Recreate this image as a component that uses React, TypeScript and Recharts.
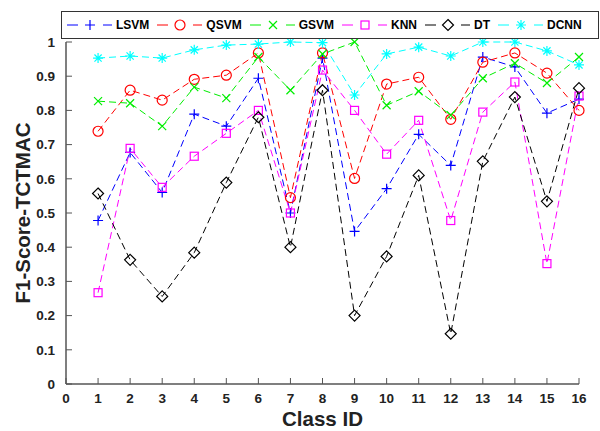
import { LineChart, Line, XAxis, YAxis, Legend } from "recharts";

const classIds = [1, 2, 3, 4, 5, 6, 7, 8, 9, 10, 11, 12, 13, 14, 15, 16];
const xTicks = [0, 1, 2, 3, 4, 5, 6, 7, 8, 9, 10, 11, 12, 13, 14, 15, 16];
const yTicks = [0, 0.1, 0.2, 0.3, 0.4, 0.5, 0.6, 0.7, 0.8, 0.9, 1];

const lsvm = [0.478, 0.677, 0.56, 0.789, 0.754, 0.894, 0.5, 0.953, 0.446, 0.571, 0.73, 0.639, 0.956, 0.927, 0.792, 0.833];
const qsvm = [0.739, 0.859, 0.83, 0.891, 0.903, 0.968, 0.545, 0.968, 0.601, 0.877, 0.897, 0.774, 0.941, 0.968, 0.909, 0.8];
const gsvm = [0.827, 0.821, 0.754, 0.868, 0.836, 0.956, 0.859, 0.965, 1.0, 0.815, 0.856, 0.786, 0.894, 0.938, 0.88, 0.956];
const knn = [0.267, 0.689, 0.575, 0.666, 0.733, 0.8, 0.5, 0.918, 0.8, 0.672, 0.771, 0.478, 0.795, 0.883, 0.352, 0.842];
const dt = [0.557, 0.363, 0.256, 0.384, 0.589, 0.78, 0.4, 0.859, 0.2, 0.373, 0.61, 0.147, 0.651, 0.839, 0.534, 0.865];
const dcnn = [0.953, 0.959, 0.953, 0.977, 0.991, 0.994, 1.0, 0.998, 0.845, 0.965, 0.985, 0.959, 1.0, 1.0, 0.974, 0.933];

const series = [
  { key: "LSVM", values: lsvm, color: "#0000ff", shape: "plus" },
  { key: "QSVM", values: qsvm, color: "#ff0000", shape: "circle" },
  { key: "GSVM", values: gsvm, color: "#00ee00", shape: "cross" },
  { key: "KNN", values: knn, color: "#ff00ff", shape: "square" },
  { key: "DT", values: dt, color: "#000000", shape: "diamond" },
  { key: "DCNN", values: dcnn, color: "#00ffff", shape: "star" },
];

const data = classIds.map((id, i) => {
  const row: Record<string, number> = { id };
  series.forEach((s) => (row[s.key] = s.values[i]));
  return row;
});

const FONT = "'Liberation Sans', Arial, Helvetica, sans-serif";
const AXIS = "#555555";
const TEXT = "#222222";

const Marker = ({ shape, cx, cy, color }: { shape: string; cx: number; cy: number; color: string }) => {
  const p = { stroke: color, fill: "none", strokeWidth: 1.2 };
  switch (shape) {
    case "plus":
      return <path d={`M${cx - 5},${cy}H${cx + 5}M${cx},${cy - 5}V${cy + 5}`} {...p} />;
    case "circle":
      return <circle cx={cx} cy={cy} r={5} {...p} />;
    case "cross":
      return <path d={`M${cx - 4},${cy - 4}L${cx + 4},${cy + 4}M${cx - 4},${cy + 4}L${cx + 4},${cy - 4}`} {...p} />;
    case "square":
      return <rect x={cx - 4} y={cy - 4} width={8} height={8} {...p} />;
    case "diamond":
      return <path d={`M${cx},${cy - 5.5}L${cx + 5.5},${cy}L${cx},${cy + 5.5}L${cx - 5.5},${cy}Z`} {...p} />;
    default:
      return (
        <path
          d={`M${cx - 5},${cy}H${cx + 5}M${cx},${cy - 5}V${cy + 5}M${cx - 3.6},${cy - 3.6}L${cx + 3.6},${cy + 3.6}M${cx - 3.6},${cy + 3.6}L${cx + 3.6},${cy - 3.6}`}
          {...p}
        />
      );
  }
};

// bottom ticks: label below, tick mark pointing inward
const BottomTick = ({ x, y, payload }: any) => (
  <g>
    <line x1={x} x2={x} y1={y - 14} y2={y - 20} stroke={AXIS} />
    <text x={x} y={y} dy="0.35em" textAnchor="middle" fontFamily={FONT} fontWeight="bold" fontSize={13.5} fill={TEXT}>
      {payload.value}
    </text>
  </g>
);

const LeftTick = ({ x, y, payload }: any) => (
  <g>
    <line x1={x + 11} x2={x + 17} y1={y} y2={y} stroke={AXIS} />
    <text x={x} y={y} dy="0.35em" textAnchor="end" fontFamily={FONT} fontWeight="bold" fontSize={13.5} fill={TEXT}>
      {Number(payload.value.toFixed(1)).toString()}
    </text>
  </g>
);

const TopTick = ({ x, y }: any) => <line x1={x} x2={x} y1={y} y2={y + 6} stroke={AXIS} />;
const RightTick = ({ x, y }: any) => <line x1={x} x2={x - 6} y1={y} y2={y} stroke={AXIS} />;

const LegendBox = () => (
  <div
    style={{
      display: "flex",
      alignItems: "center",
      height: 26,
      width: 536,
      border: "1px solid #333",
      background: "#fff",
      fontFamily: FONT,
      fontWeight: "bold",
      fontSize: 12,
      color: "#000",
      boxSizing: "content-box",
    }}
  >
    {series.map((s) => (
      <div key={s.key} style={{ display: "flex", alignItems: "center", marginLeft: s.key === "LSVM" ? 4 : 7 }}>
        <svg width={46} height={20}>
          <line x1={1} x2={12} y1={10} y2={10} stroke={s.color} />
          <Marker shape={s.shape} cx={24} cy={10} color={s.color} />
          <line x1={37} x2={46} y1={10} y2={10} stroke={s.color} />
        </svg>
        <span style={{ marginLeft: 4 }}>{s.key}</span>
      </div>
    ))}
  </div>
);

export default function App() {
  return (
    <div style={{ position: "absolute", left: 0, top: 0, background: "#fff" }}>
      <LineChart width={600} height={431} data={data} margin={{ top: 42, right: 21, bottom: 0, left: 0 }}>
        <XAxis
          dataKey="id"
          type="number"
          domain={[0, 16]}
          ticks={xTicks}
          height={47}
          tickSize={0}
          tickMargin={14}
          tickLine={false}
          tick={<BottomTick />}
          axisLine={{ stroke: AXIS, strokeWidth: 1.5 }}
          label={({ viewBox }: any) => (
            <text
              x={viewBox.x + viewBox.width / 2}
              y={viewBox.y + 42}
              textAnchor="middle"
              fontFamily={FONT}
              fontWeight="bold"
              fontSize={20.5}
              fill={TEXT}
            >
              Class ID
            </text>
          )}
        />
        <XAxis
          xAxisId="top"
          orientation="top"
          dataKey="id"
          type="number"
          domain={[0, 16]}
          ticks={xTicks}
          height={0}
          tickSize={0}
          tickMargin={0}
          tickLine={false}
          tick={<TopTick />}
          axisLine={{ stroke: AXIS, strokeWidth: 1.5 }}
        />
        <YAxis
          domain={[0, 1]}
          ticks={yTicks}
          width={66}
          tickSize={0}
          tickMargin={11}
          tickLine={false}
          tick={<LeftTick />}
          axisLine={{ stroke: AXIS, strokeWidth: 1.5 }}
          label={({ viewBox }: any) => {
            const cy = viewBox.y + viewBox.height / 2;
            return (
              <text
                x={22}
                y={cy}
                transform={`rotate(-90, 22, ${cy})`}
                textAnchor="middle"
                dominantBaseline="central"
                fontFamily={FONT}
                fontWeight="bold"
                fontSize={20.5}
                fill={TEXT}
              >
                F1-Score-TCTMAC
              </text>
            );
          }}
        />
        <YAxis
          yAxisId="right"
          orientation="right"
          domain={[0, 1]}
          ticks={yTicks}
          width={0}
          tickSize={0}
          tickMargin={0}
          tickLine={false}
          tick={<RightTick />}
          axisLine={{ stroke: AXIS, strokeWidth: 1.5 }}
        />
        <Legend
          layout="horizontal"
          verticalAlign="middle"
          align="center"
          wrapperStyle={{ top: 11, left: 61, width: 538 }}
          content={() => <LegendBox />}
        />
        {series.map((s) => (
          <Line
            key={s.key}
            dataKey={s.key}
            type="linear"
            stroke={s.color}
            strokeWidth={1}
            strokeDasharray="7 4"
            isAnimationActive={false}
            dot={(p: any) => <Marker key={`${s.key}-${p.index}`} shape={s.shape} cx={p.cx} cy={p.cy} color={s.color} />}
            activeDot={false}
          />
        ))}
      </LineChart>
    </div>
  );
}
